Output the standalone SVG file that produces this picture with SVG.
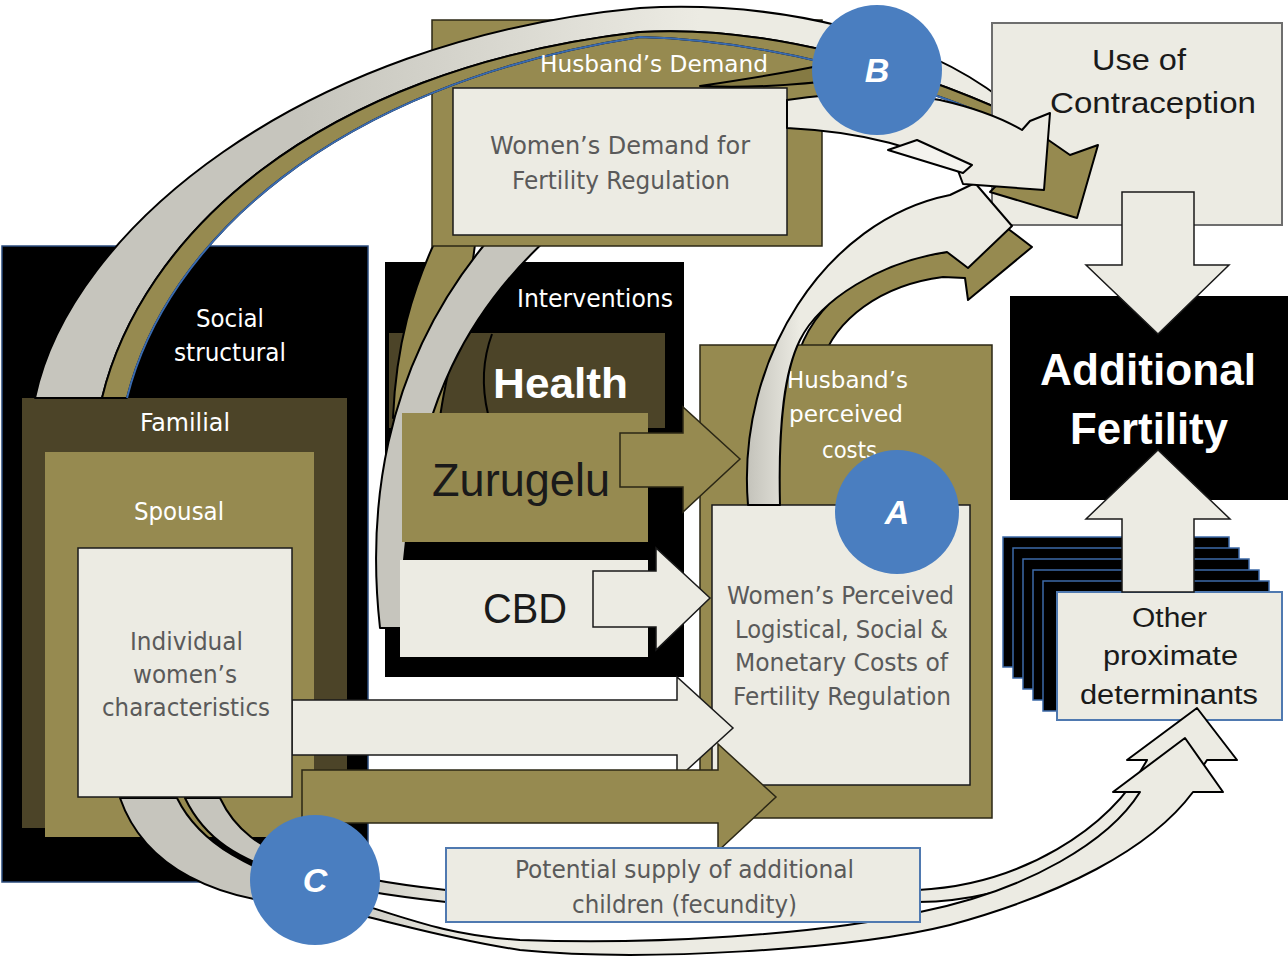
<svg xmlns="http://www.w3.org/2000/svg" width="1288" height="961" viewBox="0 0 1288 961">
  <defs>
    <style>
      .olive { fill: #968a50; stroke: #2b2715; stroke-width: 1.5; }
      .dark { fill: #4c4428; }
      .cream { fill: #ecebe3; stroke: #1a1a1a; stroke-width: 1.5; }
      .black { fill: #000; }
      .band { stroke: #000; stroke-width: 2; stroke-linejoin: round; }
      .narrow { font-family: "Liberation Sans Narrow", "DejaVu Sans Condensed", "Liberation Sans", sans-serif; }
      .sans { font-family: "Liberation Sans", Arial, sans-serif; }
      .w { fill: #ffffff; }
      .g { fill: #5a5a5a; }
      .d { fill: #1a1a1a; }
      .dot { fill: #4a7ec0; }
      .letter { font-family: "Liberation Sans", Arial, sans-serif; font-size: 34px; font-weight: bold; font-style: italic; fill: #ffffff; text-anchor: middle; }
    </style>
    <linearGradient id="gradTop" gradientUnits="userSpaceOnUse" x1="300" y1="0" x2="700" y2="0">
      <stop offset="0" stop-color="#c6c5bd"/>
      <stop offset="1" stop-color="#ecebe3"/>
    </linearGradient>
    <linearGradient id="gradC" gradientUnits="userSpaceOnUse" x1="330" y1="0" x2="470" y2="0">
      <stop offset="0" stop-color="#c6c5bd"/>
      <stop offset="1" stop-color="#ecebe3"/>
    </linearGradient>
    <linearGradient id="gradA" gradientUnits="userSpaceOnUse" x1="750" y1="0" x2="800" y2="0">
      <stop offset="0" stop-color="#c6c5bd"/>
      <stop offset="1" stop-color="#ecebe3"/>
    </linearGradient>
  </defs>

  <rect width="1288" height="961" fill="#ffffff"/>

  <!-- Nested context boxes on the left -->
  <g id="social-structural">
    <rect x="2" y="246" width="366" height="636" fill="#000" stroke="#2b4c7e" stroke-width="1.5"/>
    <text class="narrow w" x="196" y="327" font-size="24" textLength="68" lengthAdjust="spacingAndGlyphs">Social</text>
    <text class="narrow w" x="174" y="361" font-size="24" textLength="112" lengthAdjust="spacingAndGlyphs">structural</text>
  </g>
  <g id="familial">
    <rect x="22" y="398" width="325" height="430" class="dark"/>
    <text class="narrow w" x="140" y="431" font-size="24" textLength="90" lengthAdjust="spacingAndGlyphs">Familial</text>
  </g>
  <g id="spousal">
    <rect x="45" y="452" width="269" height="385" fill="#968a50"/>
    <text class="narrow w" x="134" y="520" font-size="24" textLength="90" lengthAdjust="spacingAndGlyphs">Spousal</text>
  </g>

  <!-- Interventions block -->
  <g id="interventions">
    <rect x="385" y="262" width="299" height="415" fill="#000"/>
    <rect x="389" y="333" width="276" height="95" class="dark"/>
    <text class="narrow w" x="517" y="307" font-size="24" textLength="156" lengthAdjust="spacingAndGlyphs">Interventions</text>
  </g>

  <g id="connectors-interventions">
    <!-- olive band rising from Health towards the demand box -->
    <path class="band" fill="#968a50" d="M 393,418 C 396,345 412,290 438,235 L 476,235 C 470,300 447,360 440,418 Z"/>
    <!-- grey band rising from CBD towards the demand box -->
    <path class="band" fill="#c6c5bd" d="M 380,628 C 368,520 378,370 490,238 L 548,238 C 470,310 418,400 404,560 L 404,628 Z"/>
    <path d="M 492,334 Q 478,372 488,414" fill="none" stroke="#000" stroke-width="2"/>
  </g>

  <g id="health">
    <text class="sans w" x="493" y="398" font-size="42" font-weight="bold" textLength="135" lengthAdjust="spacingAndGlyphs">Health</text>
  </g>
  <g id="zurugelu">
    <rect x="402" y="413" width="246" height="129" fill="#968a50"/>
    <text class="sans d" x="432" y="496" font-size="46" textLength="178" lengthAdjust="spacingAndGlyphs">Zurugelu</text>
  </g>
  <g id="cbd">
    <rect x="400" y="560" width="248" height="97" fill="#ecebe3"/>
    <text class="sans d" x="483" y="623" font-size="42" textLength="84" lengthAdjust="spacingAndGlyphs">CBD</text>
  </g>

  <!-- olive arc from husband's perceived costs (lower part hidden by the box) -->
  <g id="connector-a-olive">
    <path class="band" fill="#968a50" d="M 796,362 C 812,300 870,262 947,252 L 1007,228 L 1032,247 L 968,300 L 965,278 L 943,277 C 880,285 835,320 822,362 Z"/>
  </g>

  <g id="husband-costs">
    <rect x="700" y="345" width="292" height="473" class="olive"/>
    <text class="narrow w" x="787" y="388" font-size="23" textLength="121" lengthAdjust="spacingAndGlyphs">Husband’s</text>
    <text class="narrow w" x="789" y="422" font-size="23" textLength="114" lengthAdjust="spacingAndGlyphs">perceived</text>
    <text class="narrow w" x="822" y="458" font-size="23" textLength="55" lengthAdjust="spacingAndGlyphs">costs</text>
  </g>
  <g id="women-costs">
    <rect x="712" y="505" width="258" height="280" class="cream"/>
    <text class="narrow g" x="727" y="604" font-size="24" textLength="227" lengthAdjust="spacingAndGlyphs">Women’s Perceived</text>
    <text class="narrow g" x="735" y="638" font-size="24" textLength="213" lengthAdjust="spacingAndGlyphs">Logistical, Social &amp;</text>
    <text class="narrow g" x="735" y="671" font-size="24" textLength="213" lengthAdjust="spacingAndGlyphs">Monetary Costs of</text>
    <text class="narrow g" x="733" y="705" font-size="24" textLength="218" lengthAdjust="spacingAndGlyphs">Fertility Regulation</text>
  </g>

  <!-- straight block arrows into the cost box -->
  <g id="connectors-straight">
    <path class="cream" d="M 292,700 L 677,700 L 677,677 L 733,728 L 677,779 L 677,755 L 292,755 Z"/>
    <path class="olive" d="M 302,770 L 718,770 L 718,744 L 776,797 L 718,851 L 718,823 L 302,823 Z"/>
    <path class="olive" d="M 620,433 L 683,433 L 683,407 L 740,459 L 683,512 L 683,487 L 620,487 Z"/>
    <path class="cream" d="M 593,571 L 656,571 L 656,548 L 710,598 L 656,650 L 656,627 L 593,627 Z"/>
  </g>

  <!-- other proximate determinants stack -->
  <g id="other-determinants">
    <rect x="1003" y="537" width="226" height="130" fill="#000" stroke="#3d6aa8" stroke-width="1.5"/>
    <rect x="1013" y="548" width="226" height="130" fill="#000" stroke="#3d6aa8" stroke-width="1.5"/>
    <rect x="1023" y="559" width="226" height="130" fill="#000" stroke="#3d6aa8" stroke-width="1.5"/>
    <rect x="1033" y="570" width="226" height="130" fill="#000" stroke="#3d6aa8" stroke-width="1.5"/>
    <rect x="1043" y="581" width="226" height="130" fill="#000" stroke="#3d6aa8" stroke-width="1.5"/>
    <rect x="1057" y="592" width="225" height="128" fill="#ecebe3" stroke="#4f79b0" stroke-width="2"/>
    <text class="sans d" x="1132" y="627" font-size="27" textLength="75" lengthAdjust="spacingAndGlyphs">Other</text>
    <text class="sans d" x="1103" y="665" font-size="27" textLength="135" lengthAdjust="spacingAndGlyphs">proximate</text>
    <text class="sans d" x="1080" y="704" font-size="27" textLength="178" lengthAdjust="spacingAndGlyphs">determinants</text>
  </g>

  <!-- curved arrows from the individual towards other determinants -->
  <g id="connectors-c">
    <path class="band" fill="url(#gradC)" d="M 220,798 C 235,830 260,848 300,862 C 350,878 400,885 446,890 L 918,890 C 1020,885 1110,830 1147,760 L 1127,760 L 1197,708 L 1237,760 L 1207,760 C 1150,850 1010,902 918,902 L 446,902 C 400,897 340,888 290,875 C 240,860 205,840 185,798 Z"/>
    <path class="band" fill="url(#gradC)" d="M 177,798 C 200,845 250,870 330,895 C 400,915 440,935 520,940 C 650,945 820,935 920,912 C 1030,890 1110,840 1140,792 L 1113,792 L 1185,738 L 1223,792 L 1193,792 C 1150,850 1060,895 950,925 C 850,950 640,962 520,950 C 420,935 360,910 300,905 C 220,900 145,870 120,798 Z"/>
  </g>

  <g id="individual">
    <rect x="78" y="548" width="214" height="249" class="cream"/>
    <text class="narrow g" x="130" y="650" font-size="24" textLength="113" lengthAdjust="spacingAndGlyphs">Individual</text>
    <text class="narrow g" x="133" y="683" font-size="24" textLength="104" lengthAdjust="spacingAndGlyphs">women’s</text>
    <text class="narrow g" x="102" y="716" font-size="24" textLength="168" lengthAdjust="spacingAndGlyphs">characteristics</text>
  </g>

  <g id="potential-supply">
    <rect x="446" y="848" width="474" height="74" fill="#ecebe3" stroke="#4f79b0" stroke-width="2"/>
    <text class="narrow g" x="515" y="878" font-size="24" textLength="339" lengthAdjust="spacingAndGlyphs">Potential supply of additional</text>
    <text class="narrow g" x="572" y="913" font-size="24" textLength="225" lengthAdjust="spacingAndGlyphs">children (fecundity)</text>
  </g>

  <g id="husband-demand">
    <rect x="432" y="20" width="390" height="226" class="olive"/>
  </g>
  <g id="women-demand">
    <rect x="453" y="88" width="334" height="147" class="cream"/>
    <text class="narrow g" x="490" y="154" font-size="24" textLength="260" lengthAdjust="spacingAndGlyphs">Women’s Demand for</text>
    <text class="narrow g" x="512" y="189" font-size="24" textLength="218" lengthAdjust="spacingAndGlyphs">Fertility Regulation</text>
  </g>

  <!-- large arcs from the social and familial levels over the top -->
  <g id="connectors-top">
    <path class="band" fill="url(#gradTop)" d="M 35,398 C 70,230 300,40 640,8 C 780,0 920,35 1003,100 L 1042,88 L 1033,116 L 1026,121 C 900,62 760,25 640,32 C 310,70 140,240 102,398 Z"/>
    <path class="band" fill="#968a50" d="M 102,398 C 140,240 310,70 640,32 C 760,25 900,62 1026,121 L 1022,130 C 900,75 760,40 640,37 C 330,85 165,245 127,398 Z"/>
    <path d="M 127,398 C 165,245 330,85 640,37 C 760,40 900,75 1022,130" fill="none" stroke="#3a6bb0" stroke-width="2"/>
  </g>

  <g id="use-of-contraception">
    <rect x="992" y="23" width="290" height="202" fill="#ecebe3" stroke="#6e6e6e" stroke-width="2"/>
    <text class="sans d" x="1092" y="70" font-size="29" textLength="94" lengthAdjust="spacingAndGlyphs">Use of</text>
    <text class="sans d" x="1050" y="113" font-size="29" textLength="206" lengthAdjust="spacingAndGlyphs">Contraception</text>
  </g>

  <!-- arrows converging on contraceptive use -->
  <g id="connectors-b">
    <path class="band" fill="#857a43" d="M 700,86 C 740,80 780,74 818,66 L 820,82 C 780,86 740,88 700,86 Z"/>
    <path class="band" fill="url(#gradA)" d="M 748,505 C 736,360 825,220 950,195 L 975,183 L 1012,226 L 968,268 L 947,252 C 880,262 820,300 800,340 C 785,370 778,420 780,505 Z"/>
    <path class="band" fill="#968a50" d="M 1044,137 L 1070,155 L 1098,145 L 1077,218 L 990,192 Z"/>
    <path class="band" fill="#ecebe3" d="M 787,100 C 840,92 895,92 940,100 C 975,108 1005,120 1022,130 L 1030,121 L 1050,113 L 1044,190 L 963,184 L 957,168 C 920,150 870,132 787,128 Z"/>
    <path class="band" fill="#f4f3ee" d="M 888,150 L 917,140 L 972,165 L 963,173 Z"/>
  </g>

  <g id="additional-fertility">
    <rect x="1010" y="296" width="278" height="204" fill="#000"/>
    <text class="sans w" x="1040" y="385" font-size="44" font-weight="bold" textLength="216" lengthAdjust="spacingAndGlyphs">Additional</text>
    <text class="sans w" x="1070" y="444" font-size="44" font-weight="bold" textLength="158" lengthAdjust="spacingAndGlyphs">Fertility</text>
  </g>

  <g id="connectors-fertility">
    <path class="cream" d="M 1122,192 L 1194,192 L 1194,265 L 1229,265 L 1158,334 L 1086,265 L 1122,265 Z"/>
    <path class="cream" d="M 1122,592 L 1122,519 L 1086,519 L 1158,450 L 1230,519 L 1194,519 L 1194,592 Z"/>
  </g>

  <text class="narrow w" x="540" y="72" font-size="23" textLength="228" lengthAdjust="spacingAndGlyphs">Husband’s  Demand</text>

  <!-- pathway markers -->
  <g id="marker-a">
    <circle class="dot" cx="897" cy="512" r="62"/>
    <text class="letter" x="897" y="524">A</text>
  </g>
  <g id="marker-b">
    <circle class="dot" cx="877" cy="70" r="65"/>
    <text class="letter" x="877" y="82">B</text>
  </g>
  <g id="marker-c">
    <circle class="dot" cx="315" cy="880" r="65"/>
    <text class="letter" x="315" y="892">C</text>
  </g>
</svg>
